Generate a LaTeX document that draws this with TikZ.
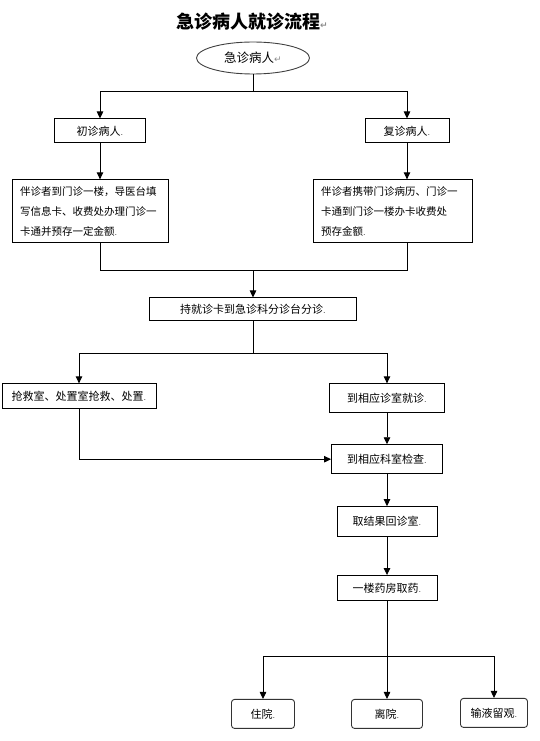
\documentclass[tikz,border=0pt]{standalone}
\usepackage{fontspec}
\setmainfont{Noto Sans CJK SC}
\newfontfamily\symfont{DejaVu Sans}
\usetikzlibrary{shapes,arrows.meta,positioning}

\newcommand{\retmark}{{\color{black!45}\symfont\fontsize{9}{9}\selectfont ↵}}
\newcommand{\parmark}{{\color{black!70}\symfont\fontsize{8}{8}\selectfont .}}

\begin{document}
\begin{tikzpicture}[
    x=1pt, y=1pt,
    oval/.style={ellipse, draw=black!75, line width=0.9pt, minimum width=113pt, minimum height=32pt, inner sep=0pt, font=\fontsize{12.5}{14}\selectfont},
    block/.style={rectangle, draw, line width=0.9pt, fill=white, align=center, inner sep=2pt, font=\fontsize{11}{13}\selectfont},
    infoblock/.style={block, align=left, inner xsep=8pt, minimum height=63pt, font=\fontsize{10.5}{20}\selectfont},
    endblock/.style={block, draw=black!80, rounded corners=3pt, minimum height=29pt},
    arrow/.style={line width=0.9pt, -{Triangle[length=7pt,width=6.5pt]}},
    link/.style={line width=0.9pt}
]
    \useasboundingbox (0,0) rectangle (539,-741);

    \node[font=\bfseries\fontsize{18}{20}\selectfont, inner sep=0pt] (title) at (252,-22) {急诊病人就诊流程\retmark};
    \node[oval] (start) at (253,-58) {急诊病人\retmark};

    \node[block, minimum width=91pt, minimum height=24pt, below=44pt of start, xshift=-153pt] (chuzhen) {初诊病人\parmark};
    \node[block, minimum width=84pt, minimum height=24pt, below=44pt of start, xshift=154pt] (fuzhen) {复诊病人\parmark};
    \node[infoblock, text width=140pt, below=36pt of chuzhen, xshift=-10pt] (chuxinfo) {伴诊者到门诊一楼，导医台填\\写信息卡、收费处办理门诊一\\卡通并预存一定金额\parmark};
    \node[infoblock, text width=143pt, below=36pt of fuzhen, xshift=-14.5pt] (fuxinfo) {伴诊者携带门诊病历、门诊一\\卡通到门诊一楼办卡收费处\\预存金额\parmark};

    \node[block, minimum width=207pt, minimum height=23pt, below=223pt of start] (fenzhen) {持就诊卡到急诊科分诊台分诊\parmark};

    \node[block, minimum width=154pt, minimum height=25pt, below=62pt of fenzhen, xshift=-174pt] (qiangjiu) {抢救室、处置室抢救、处置\parmark};
    \node[block, minimum width=115pt, minimum height=29pt, below=62pt of fenzhen, xshift=134pt] (zhenshi) {到相应诊室就诊\parmark};
    \node[block, minimum width=111pt, minimum height=29pt, below=31pt of zhenshi] (jiancha) {到相应科室检查\parmark};
    \node[block, minimum width=100pt, minimum height=30pt, below=32pt of jiancha] (quguo) {取结果回诊室\parmark};
    \node[block, minimum width=100pt, minimum height=25pt, below=38pt of quguo] (yaofang) {一楼药房取药\parmark};

    \node[endblock, minimum width=63pt, below=98pt of yaofang, xshift=-124pt] (zhuyuan) {住院\parmark};
    \node[endblock, minimum width=71pt, below=98pt of yaofang] (liyuan) {离院\parmark};
    \node[endblock, minimum width=67pt, below=97pt of yaofang, xshift=107pt] (shuye) {输液留观\parmark};

    \coordinate[below=17pt of start] (fork0);
    \coordinate[above=27pt of fenzhen] (join1);
    \coordinate[below=32pt of fenzhen] (fork2);
    \coordinate[below=55pt of yaofang] (fork3);

    \draw[arrow] (start) -- (fork0) -| (chuzhen);
    \draw[arrow] (fork0) -| (fuzhen);
    \draw[arrow] (chuzhen) -- (chuzhen |- chuxinfo.north);
    \draw[arrow] (fuzhen) -- (fuzhen |- fuxinfo.north);
    \draw[link] (chuzhen |- chuxinfo.south) |- (join1) -| (fuzhen |- fuxinfo.south);
    \draw[arrow] (join1) -- (fenzhen);
    \draw[link] (fenzhen) -- (fork2);
    \draw[arrow] (fork2) -| (qiangjiu);
    \draw[arrow] (fork2) -| (zhenshi);
    \draw[arrow] (qiangjiu) |- (jiancha);
    \draw[arrow] (zhenshi) -- (jiancha);
    \draw[arrow] (jiancha) -- (quguo);
    \draw[arrow] (quguo) -- (yaofang);
    \draw[link] (yaofang) -- (fork3);
    \draw[arrow] (fork3) -| (zhuyuan);
    \draw[arrow] (fork3) -- (liyuan);
    \draw[arrow] (fork3) -| (shuye);
\end{tikzpicture}
\end{document}
